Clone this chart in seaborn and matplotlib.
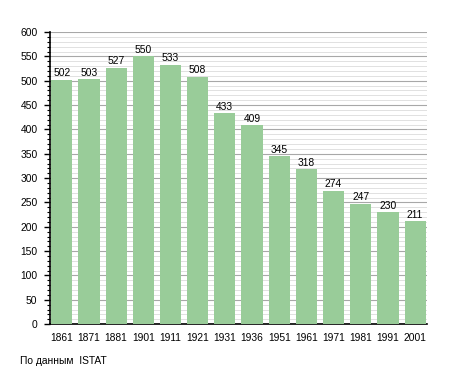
import matplotlib
matplotlib.use("Agg")
import matplotlib.pyplot as plt
import seaborn as sns
import pandas as pd
from matplotlib.ticker import MultipleLocator

# dati censimento
anni = ["1861", "1871", "1881", "1901", "1911", "1921", "1931", "1936",
        "1951", "1961", "1971", "1981", "1991", "2001"]
abitanti = [502, 503, 527, 550, 533, 508, 433, 409, 345, 318, 274, 247, 230, 211]

df = pd.DataFrame({"anno": anni, "abitanti": abitanti})

sns.set_style("white")
plt.rcParams["font.family"] = ["Liberation Sans", "DejaVu Sans"]
plt.rcParams["text.color"] = "black"
plt.rcParams["xtick.color"] = "black"
plt.rcParams["ytick.color"] = "black"

fs = 7.4

fig = plt.figure(figsize=(4.55, 3.73), dpi=100)
ax = fig.add_axes([0.11, 0.131, 0.828, 0.783])

sns.barplot(data=df, x="anno", y="abitanti", color="#99cc99", saturation=1,
            width=0.78, linewidth=0, ax=ax, zorder=3)

for i, v in enumerate(abitanti):
    ax.text(i, v + 3, str(v), ha="center", va="bottom", fontsize=fs, zorder=4)

ax.set_ylim(0, 600)
ax.set_xlim(-0.43, len(anni) - 1 + 0.43)
ax.yaxis.set_major_locator(MultipleLocator(50))
ax.yaxis.set_minor_locator(MultipleLocator(10))
ax.grid(axis="y", which="major", color="#a8a8a8", linewidth=0.8, zorder=0)
ax.grid(axis="y", which="minor", color="#dcdcdc", linewidth=0.6, zorder=0)
ax.set_axisbelow(True)

for s in ["top", "right"]:
    ax.spines[s].set_visible(False)
ax.spines["left"].set_linewidth(1.2)
ax.spines["bottom"].set_linewidth(1.2)
ax.spines["left"].set_color("black")
ax.spines["bottom"].set_color("black")
ax.tick_params(axis="y", which="major", left=True, length=4, width=1, labelsize=fs, pad=5)
ax.tick_params(axis="y", which="minor", left=True, length=2, width=0.8)
ax.tick_params(axis="x", bottom=False, labelsize=fs, pad=3)
ax.set_xlabel("")
ax.set_ylabel("")

fig.text(0.045, 0.02, "По данным  ISTAT", fontsize=fs, ha="left", va="bottom")

fig.savefig("out.png", dpi=100)
